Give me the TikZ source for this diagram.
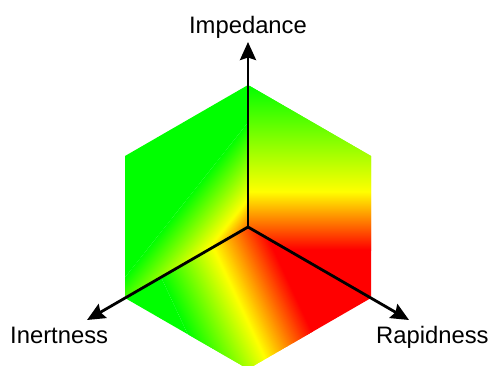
\documentclass[tikz,border=0pt]{standalone}
\usepackage{fontspec}
\setmainfont{Liberation Sans}
\usetikzlibrary{arrows.meta}
\definecolor{cgreen}{RGB}{0,255,0}
\definecolor{cyellow}{RGB}{255,255,0}
\definecolor{cred}{RGB}{255,0,0}
% gradient band: from s=#1 to s=#2, colour #3 -> #4, #5 strips
\newcommand\gradband[5]{%
  \foreach \i in {1,...,#5}{%
    \pgfmathsetmacro\sa{#1+(\i-1)*(#2-#1)/#5}%
    \pgfmathsetmacro\sb{#1+\i*(#2-#1)/#5+0.8}%
    \pgfmathsetmacro\pc{100*(\i-0.5)/#5}%
    \fill[#4!\pc!#3] (\sa,-600) -- (\sb,-600) -- (\sb,600) -- (\sa,600) -- cycle;
  }%
}
\newcommand\solidband[3]{\fill[#3] (#1,-600) -- (#2,-600) -- (#2,600) -- (#1,600) -- cycle;}
\begin{document}
\begin{tikzpicture}[x=1bp,y=-1bp,
  lbl/.style={font=\fontsize{23.8bp}{28bp}\selectfont, inner sep=0pt, text=black},
  axisarrow/.style={line width=2.8bp, draw=black, -{Stealth[length=18bp,width=16bp,inset=2.5bp]}}]
\useasboundingbox (0,0) rectangle (491,365);
\coordinate (C) at (248,227);
\coordinate (T) at (248,85);
\coordinate (UL) at (125,156);
\coordinate (LL) at (125,298);
\coordinate (B) at (248,369);
\coordinate (LR) at (371,298);
\coordinate (UR) at (371,156);
\coordinate (eImp) at (248,42);
\coordinate (eIne) at (87,320);
\coordinate (eRap) at (409,320);

% left face
\begin{scope}
  \clip (T) -- (UL) -- (LL) -- (C) -- cycle;
  \begin{scope}[shift={(C)}, x={(0.783bp,-0.622bp)}, y={(0.622bp,0.783bp)}]
    \solidband{-300}{-65}{cgreen}
    \gradband{-65}{-17}{cgreen}{cyellow}{48}
    \gradband{-17}{15}{cyellow}{cred}{32}
    \solidband{15}{300}{cred}
  \end{scope}
\end{scope}

% top-right face
\begin{scope}
  \clip (T) -- (UR) -- (LR) -- (C) -- cycle;
  \begin{scope}[shift={(T)}, x={(0bp,-1bp)}, y={(1bp,0bp)}]
    \solidband{-300}{0}{cgreen}
    \gradband{0}{107}{cgreen}{cyellow}{107}
    \gradband{107}{165}{cyellow}{cred}{58}
    \solidband{165}{400}{cred}
  \end{scope}
\end{scope}

% bottom face
\begin{scope}
  \clip (C) -- (LL) -- (B) -- (LR) -- cycle;
  \begin{scope}[shift={(C)}, x={(0.906bp,0.423bp)}, y={(-0.423bp,0.906bp)}]
    \solidband{-300}{-100}{cgreen}
    \gradband{-100}{-40}{cgreen}{cyellow}{60}
    \gradband{-40}{14}{cyellow}{cred}{54}
    \solidband{14}{300}{cred}
  \end{scope}
\end{scope}

% axes
\draw[axisarrow] (C) -- (eImp);
\draw[axisarrow] (C) -- (eIne);
\draw[axisarrow] (C) -- (eRap);

% labels
\node[lbl, anchor=base] (lImp) at (248,33) {Impedance};
\node[lbl, anchor=base west] (lIne) at (10,343) {Inertness};
\node[lbl, anchor=base west] (lRap) at (376,343) {Rapidness};
\end{tikzpicture}
\end{document}
